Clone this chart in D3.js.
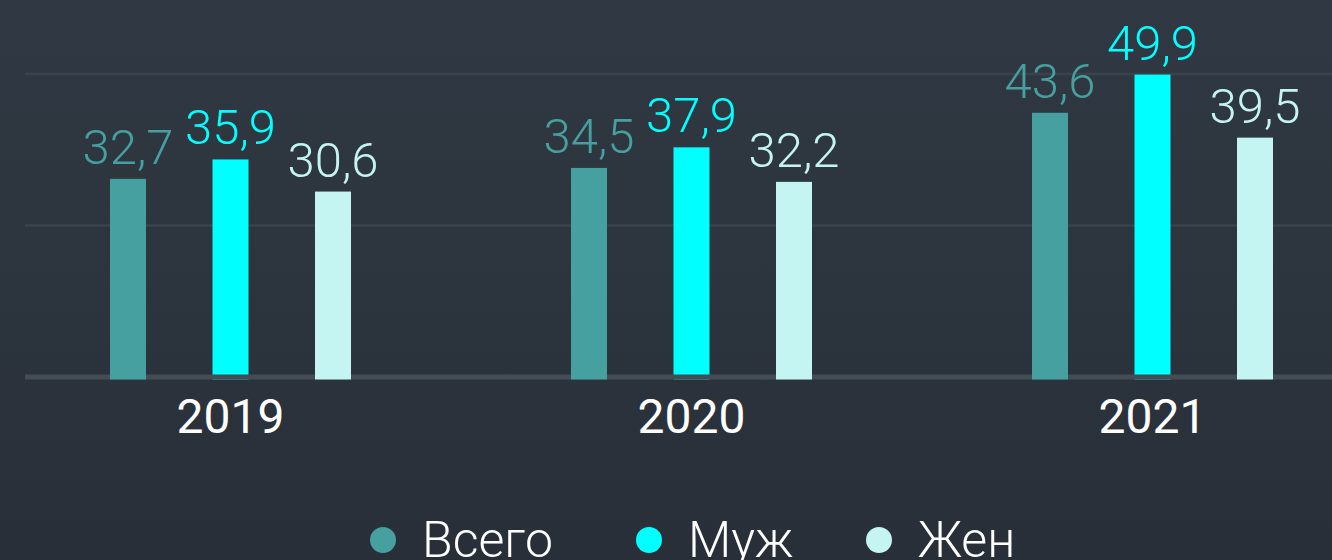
<!DOCTYPE html>
<html>
<head>
<meta charset="utf-8">
<script src="https://cdn.jsdelivr.net/npm/d3@7"></script>
<style>
  html, body { margin: 0; padding: 0; }
  body { width: 1332px; height: 560px; overflow: hidden; }
  svg { display: block; }
</style>
</head>
<body>
<svg id="chart" width="1332" height="560"></svg>
<script>
const years = ["2019", "2020", "2021"];
const seriesNames = ["Всего", "Муж", "Жен"];
const totalValues = [32.7, 34.5, 43.6];
const maleValues = [35.9, 37.9, 49.9];
const femaleValues = [30.6, 32.2, 39.5];
const gridTicks = [25, 50];
const seriesColors = ["#46a0a0", "#00ffff", "#c4f5f2"];

const W = 1332, H = 560;
const svg = d3.select("#chart");

const defs = svg.append("defs");
const grad = defs.append("linearGradient").attr("id", "bg").attr("x1", 0).attr("y1", 0).attr("x2", 0).attr("y2", 1);
grad.append("stop").attr("offset", "0%").attr("stop-color", "#303943");
grad.append("stop").attr("offset", "100%").attr("stop-color", "#282f38");
svg.append("rect").attr("width", W).attr("height", H).attr("fill", "url(#bg)");

const x = d3.scaleBand().domain(years).range([0, 1383]).padding(0);
const xs = d3.scalePoint().domain(seriesNames).range([-102.5, 102.5]);
const y = d3.scaleLinear().domain([0, 50]).range([377, 74]);
const barW = 36;

const values = [totalValues, maleValues, femaleValues];
const data = [];
seriesNames.forEach((s, si) => {
  years.forEach((yr, yi) => {
    data.push({ series: s, si, year: yr, value: values[si][yi] });
  });
});

// grid
svg.append("g").selectAll("line").data(gridTicks).join("line")
  .attr("x1", 25).attr("x2", W)
  .attr("y1", d => y(d)).attr("y2", d => y(d))
  .attr("stroke", "#3a434c").attr("stroke-width", 2.5);

const barX = d => x(d.year) + x.bandwidth() / 2 + xs(d.series) - barW / 2;

function drawBars(g, rows) {
  g.selectAll("rect").data(rows).join("rect")
    .attr("x", barX)
    .attr("y", d => y(d.value))
    .attr("width", barW)
    .attr("height", d => y(0) + 2.5 - y(d.value))
    .attr("fill", d => seriesColors[d.si]);
}

drawBars(svg.append("g"), data.filter(d => d.series === "Муж"));

// baseline
svg.append("line")
  .attr("x1", 25).attr("x2", W)
  .attr("y1", y(0)).attr("y2", y(0))
  .attr("stroke", "#444d56").attr("stroke-width", 5);

drawBars(svg.append("g"), data.filter(d => d.series !== "Муж"));

// value labels
svg.append("g").selectAll("text").data(data).join("text")
  .attr("x", d => x(d.year) + x.bandwidth() / 2 + xs(d.series))
  .attr("y", d => y(d.value) - 15)
  .attr("text-anchor", "middle")
  .attr("font-family", "Roboto, sans-serif")
  .attr("font-weight", 300)
  .attr("font-size", 49)
  .attr("fill", d => seriesColors[d.si])
  .text(d => d.value.toFixed(1).replace(".", ","));

// x axis labels
const xAxis = d3.axisBottom(x).tickSize(0).tickPadding(0);
const ax = svg.append("g").attr("transform", `translate(0, ${y(0)})`).call(xAxis);
ax.select(".domain").remove();
ax.selectAll("text")
  .attr("dy", null)
  .attr("y", 56)
  .attr("font-family", "Roboto, sans-serif")
  .attr("font-weight", 400)
  .attr("font-size", 48)
  .attr("fill", "#ffffff");

// legend
const legendX = [383, 649, 879];
const lg = svg.append("g").selectAll("g").data(seriesNames).join("g")
  .attr("transform", (d, i) => `translate(${legendX[i]}, 540)`);
lg.append("circle").attr("r", 13).attr("fill", (d, i) => seriesColors[i]);
lg.append("text")
  .attr("x", 39).attr("y", 17)
  .attr("font-family", "Roboto, sans-serif")
  .attr("font-weight", 300)
  .attr("font-size", 50)
  .attr("fill", "#ffffff")
  .text(d => d);
</script>
</body>
</html>
